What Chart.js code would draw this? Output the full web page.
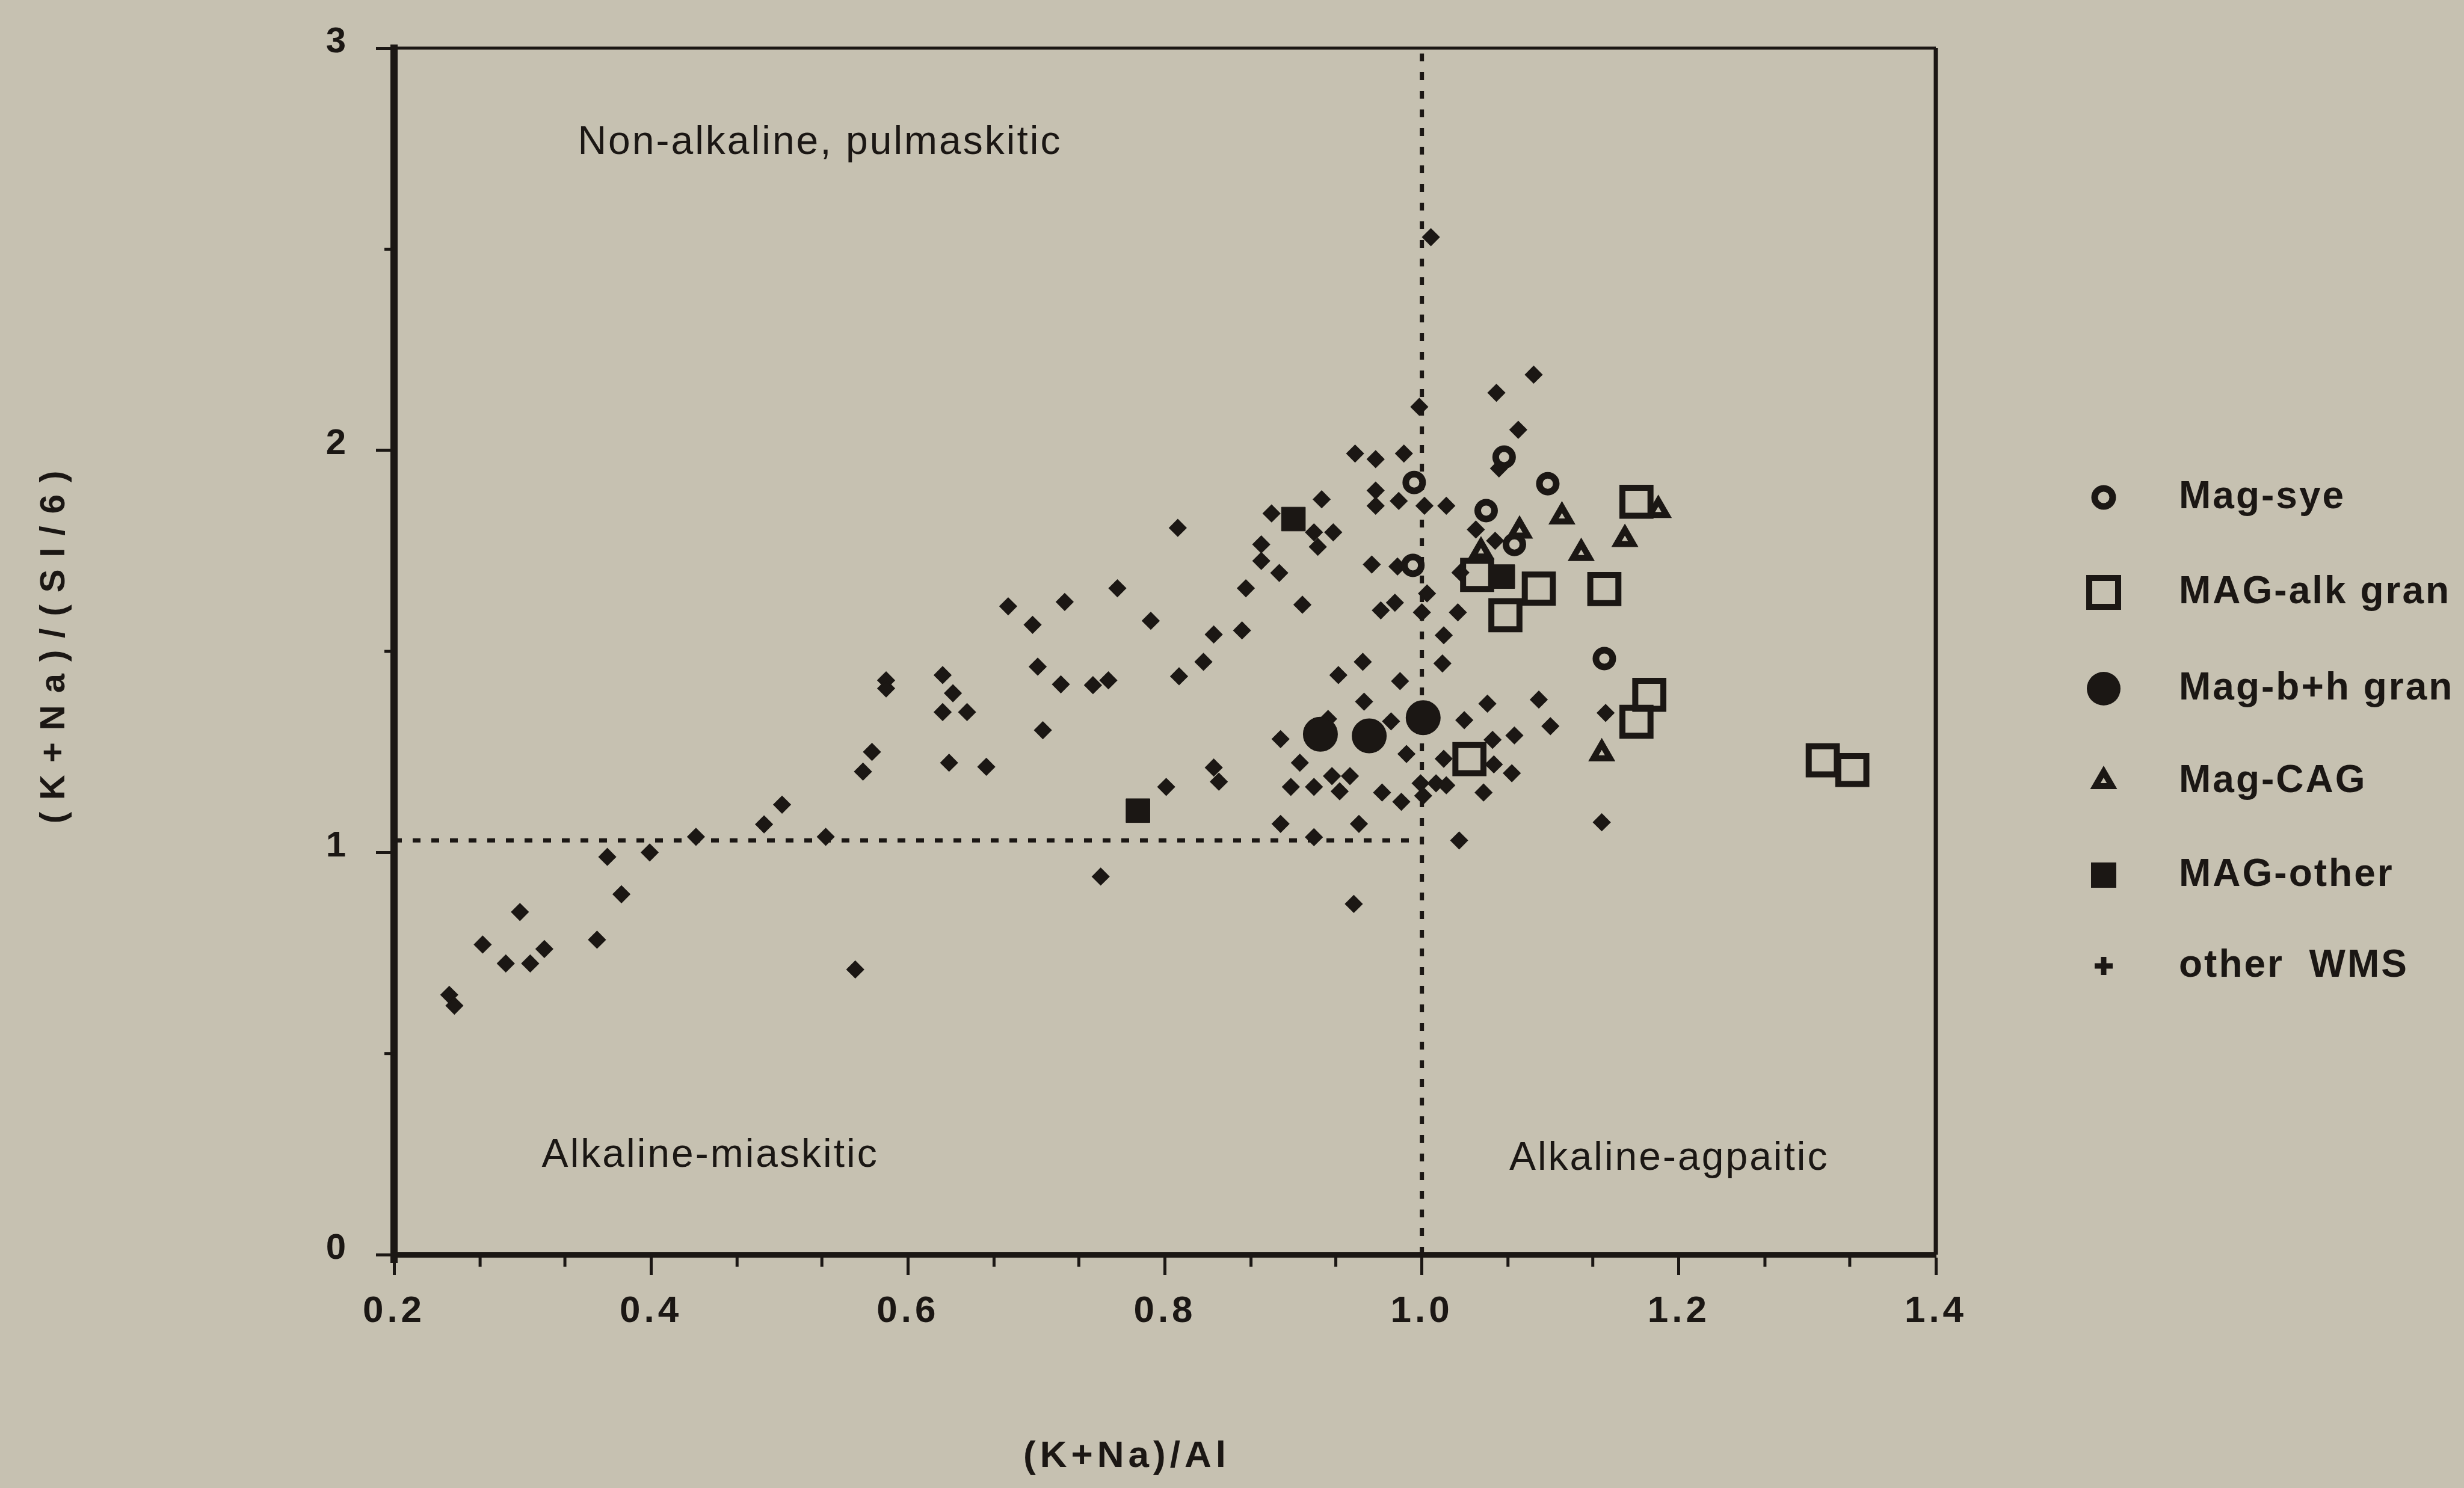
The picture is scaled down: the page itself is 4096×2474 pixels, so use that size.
<!DOCTYPE html>
<html>
<head>
<meta charset="utf-8">
<title>(K+Na)/Al vs (K+Na)/(SI/6)</title>
<script src="https://cdn.jsdelivr.net/npm/chart.js@4.4.1/dist/chart.umd.min.js"></script>
<style>
  html, body { margin: 0; padding: 0; background: #c6c1b1; }
  canvas { display: block; }
</style>
</head>
<body>
<canvas id="myChart" width="4096" height="2474"></canvas>
<script>
// axis ticks
const xTicks = [0.2, 0.4, 0.6, 0.8, 1.0, 1.2, 1.4];
const xTickLabels = ['0.2', '0.4', '0.6', '0.8', '1.0', '1.2', '1.4'];
const xMinorTicks = [0.267, 0.333, 0.467, 0.533, 0.667, 0.733, 0.867, 0.933, 1.067, 1.133, 1.267, 1.333];
const yTicks = [0, 1, 2, 3];
const yTickLabels = ['0', '1', '2', '3'];
const yMinorTicks = [0.5, 1.5, 2.5];

const seriesNames = ['Mag-sye', 'MAG-alk gran', 'Mag-b+h gran', 'Mag-CAG', 'MAG-other', 'other  WMS'];

// points, [ (K+Na)/Al , (K+Na)/(Si/6) ]
const magSye = [[0.994, 1.920], [0.993, 1.714], [1.064, 1.983], [1.098, 1.917], [1.050, 1.850],
  [1.072, 1.766], [1.142, 1.482]];
const magAlkGran = [[1.167, 1.872], [1.142, 1.655], [1.091, 1.656], [1.065, 1.590], [1.043, 1.690],
  [1.177, 1.392], [1.167, 1.325], [1.037, 1.232], [1.312, 1.229], [1.335, 1.205]];
const magBhGran = [[0.921, 1.294], [0.959, 1.290], [1.001, 1.335]];
const magCag = [[1.109, 1.835], [1.184, 1.851], [1.158, 1.779], [1.124, 1.744], [1.076, 1.800],
  [1.046, 1.748], [1.140, 1.246]];
const magOther = [[0.779, 1.104], [0.900, 1.829], [1.063, 1.686]];
const otherWms = [
  [0.243, 0.646], [0.247, 0.619], [0.269, 0.771], [0.287, 0.724], [0.306, 0.724], [0.317, 0.760],
  [0.298, 0.852], [0.358, 0.783], [0.366, 0.989], [0.377, 0.896], [0.399, 1.000], [0.435, 1.039],
  [0.488, 1.070], [0.502, 1.119], [0.536, 1.039], [0.559, 0.709],
  [0.565, 1.201], [0.572, 1.250], [0.583, 1.428], [0.583, 1.408], [0.627, 1.441], [0.635, 1.396],
  [0.627, 1.349], [0.646, 1.349], [0.632, 1.223], [0.661, 1.213], [0.678, 1.612], [0.697, 1.566],
  [0.701, 1.462], [0.705, 1.304], [0.719, 1.418], [0.722, 1.623], [0.744, 1.416], [0.756, 1.428],
  [0.750, 0.940], [0.763, 1.657], [0.789, 1.576], [0.801, 1.163], [0.810, 1.807], [0.811, 1.438],
  [0.830, 1.474], [0.838, 1.542], [0.838, 1.211], [0.842, 1.176], [0.860, 1.552], [0.863, 1.657],
  [0.875, 1.766], [0.875, 1.725], [0.889, 1.695], [0.883, 1.843], [0.922, 1.878], [0.916, 1.796],
  [0.919, 1.760], [0.931, 1.796], [0.907, 1.616],
  [0.948, 1.992], [0.964, 1.978], [0.986, 1.992], [0.964, 1.900], [0.964, 1.862], [0.982, 1.874],
  [0.961, 1.716], [0.981, 1.711], [0.968, 1.602], [0.979, 1.621], [1.000, 1.597], [0.954, 1.474],
  [0.935, 1.441], [0.983, 1.426], [0.955, 1.375], [0.927, 1.332], [0.976, 1.326], [0.890, 1.282],
  [0.988, 1.245], [0.905, 1.223], [0.930, 1.190], [0.944, 1.190], [0.898, 1.163], [0.916, 1.163],
  [0.936, 1.152], [0.969, 1.149], [0.984, 1.126], [0.890, 1.071], [0.916, 1.038], [0.951, 1.071],
  [0.947, 0.872],
  [1.007, 2.530], [0.998, 2.108], [1.002, 1.862], [1.019, 1.862], [1.004, 1.644], [1.028, 1.597],
  [1.017, 1.540], [1.016, 1.470], [1.030, 1.696], [1.042, 1.803], [1.057, 1.775], [1.060, 1.955],
  [1.033, 1.329], [1.051, 1.370], [1.072, 1.291], [1.055, 1.280], [1.056, 1.219], [1.070, 1.197],
  [1.017, 1.233], [0.999, 1.172], [1.011, 1.172], [1.019, 1.167], [1.001, 1.141], [1.048, 1.149],
  [1.029, 1.030],
  [1.087, 2.188], [1.058, 2.143], [1.075, 2.051], [1.091, 1.380], [1.100, 1.314], [1.143, 1.347],
  [1.140, 1.075]
];

// dotted field boundaries
const boundaryH = [[0.2, 1.03], [1.0, 1.03]];
const boundaryV = [[1.0, 0], [1.0, 3]];

const INK = '#1b1714';
const PAPER = '#c6c1b1';
const FONT = "'Liberation Sans', Arial, sans-serif";

function pts(arr) {
    return arr.map(function (p) { return { x: p[0], y: p[1] }; });
}

function markerSet(label, arr, style, radius, border, fill, order) {
    return {
        label: label,
        data: pts(arr),
        pointStyle: style,
        pointRadius: radius,
        pointHoverRadius: radius,
        pointBorderWidth: border,
        pointHoverBorderWidth: border,
        pointBorderColor: INK,
        pointBackgroundColor: fill,
        showLine: false,
        order: order
    };
}

function lineSet(arr) {
    return {
        label: '',
        data: pts(arr),
        showLine: true,
        pointRadius: 0,
        borderColor: INK,
        borderWidth: 7,
        borderDash: [13, 18],
        borderCapStyle: 'butt',
        order: 10
    };
}

const datasets = [
    markerSet(seriesNames[0], magSye, 'circle', 14, 11, PAPER, 1),
    markerSet(seriesNames[1], magAlkGran, 'rect', 33, 10, 'rgba(0,0,0,0)', 2),
    markerSet(seriesNames[2], magBhGran, 'circle', 28, 2, INK, 3),
    markerSet(seriesNames[3], magCag, 'triangle', 16, 10, PAPER, 4),
    markerSet(seriesNames[4], magOther, 'rect', 28, 1, INK, 5),
    markerSet(seriesNames[5], otherWms, 'rectRot', 13, 3, INK, 6),
    lineSet(boundaryH),
    lineSet(boundaryV)
];

// legend marker drawing (the legend is drawn by hand to keep the mixed marker sizes)
function legendMarker(ctx, kind, x, y) {
    ctx.save();
    ctx.fillStyle = INK;
    ctx.strokeStyle = INK;
    ctx.beginPath();
    if (kind === 'ring') {
        ctx.lineWidth = 11;
        ctx.arc(x, y, 15, 0, Math.PI * 2);
        ctx.fillStyle = PAPER;
        ctx.fill();
        ctx.stroke();
    } else if (kind === 'openSquare') {
        ctx.lineWidth = 10;
        ctx.rect(x - 24, y - 24, 48, 48);
        ctx.stroke();
    } else if (kind === 'disc') {
        ctx.arc(x, y, 28, 0, Math.PI * 2);
        ctx.fill();
    } else if (kind === 'triangle') {
        ctx.lineWidth = 10;
        var r = 16;
        ctx.moveTo(x, y - r);
        ctx.lineTo(x + Math.sin(2 * Math.PI / 3) * r, y + r / 2);
        ctx.lineTo(x - Math.sin(2 * Math.PI / 3) * r, y + r / 2);
        ctx.closePath();
        ctx.fillStyle = PAPER;
        ctx.fill();
        ctx.stroke();
    } else if (kind === 'filledSquare') {
        ctx.rect(x - 21, y - 21, 42, 42);
        ctx.fill();
    } else if (kind === 'plus') {
        ctx.lineWidth = 9;
        ctx.moveTo(x - 15, y);
        ctx.lineTo(x + 15, y);
        ctx.moveTo(x, y - 15);
        ctx.lineTo(x, y + 15);
        ctx.stroke();
    }
    ctx.restore();
}

const paperPlugin = {
    id: 'paper',
    beforeDraw: function (chart) {
        const ctx = chart.ctx;
        ctx.save();
        ctx.fillStyle = PAPER;
        ctx.fillRect(0, 0, chart.width, chart.height);
        ctx.restore();
        // tick labels in the original are widely spaced
        ctx.letterSpacing = '6px';
    },
    beforeDatasetsDraw: function (chart) {
        const ctx = chart.ctx;
        const a = chart.chartArea;
        const xs = chart.scales.x;
        const ys = chart.scales.y;
        ctx.save();
        ctx.strokeStyle = INK;
        // top and right frame
        ctx.lineWidth = 5;
        ctx.beginPath();
        ctx.moveTo(a.left, a.top);
        ctx.lineTo(a.right, a.top);
        ctx.stroke();
        ctx.lineWidth = 7;
        ctx.beginPath();
        ctx.moveTo(a.right, a.top);
        ctx.lineTo(a.right, a.bottom);
        ctx.stroke();
        // left axis runs a little past the origin
        ctx.lineWidth = 12;
        ctx.beginPath();
        ctx.moveTo(a.left, a.bottom);
        ctx.lineTo(a.left, a.bottom + 14);
        ctx.stroke();
        // minor ticks
        ctx.lineWidth = 5;
        xMinorTicks.forEach(function (v) {
            const px = xs.getPixelForValue(v);
            ctx.beginPath();
            ctx.moveTo(px, a.bottom);
            ctx.lineTo(px, a.bottom + 20);
            ctx.stroke();
        });
        yMinorTicks.forEach(function (v) {
            const py = ys.getPixelForValue(v);
            ctx.beginPath();
            ctx.moveTo(a.left, py);
            ctx.lineTo(a.left - 16, py);
            ctx.stroke();
        });
        ctx.restore();
    },
    afterDraw: function (chart) {
        const ctx = chart.ctx;
        const xs = chart.scales.x;
        const ys = chart.scales.y;
        ctx.save();
        ctx.fillStyle = INK;
        ctx.textBaseline = 'middle';

        // field names
        ctx.font = '66px ' + FONT;
        ctx.letterSpacing = '3px';
        ctx.textAlign = 'left';
        ctx.fillText('Non-alkaline, pulmaskitic', xs.getPixelForValue(0.343), ys.getPixelForValue(2.764));
        ctx.fillText('Alkaline-miaskitic', xs.getPixelForValue(0.315), ys.getPixelForValue(0.246));
        ctx.fillText('Alkaline-agpaitic', xs.getPixelForValue(1.068), ys.getPixelForValue(0.238));

        // axis titles
        ctx.font = 'bold 62px ' + FONT;
        ctx.letterSpacing = '7px';
        ctx.textAlign = 'center';
        ctx.fillText('(K+Na)/Al', 1873, 2422);

        ctx.save();
        ctx.translate(91, 1066);
        ctx.rotate(-Math.PI / 2);
        ctx.font = 'bold 58px ' + FONT;
        ctx.letterSpacing = '20px';
        ctx.fillText('(K+Na)/(SI/6)', 0, 0);
        ctx.restore();

        // legend
        const kinds = ['ring', 'openSquare', 'disc', 'triangle', 'filledSquare', 'plus'];
        const rows = [827, 985, 1145, 1299, 1455, 1606];
        ctx.font = 'bold 64px ' + FONT;
        ctx.letterSpacing = '3px';
        ctx.textAlign = 'left';
        seriesNames.forEach(function (name, i) {
            legendMarker(ctx, kinds[i], 3497, rows[i]);
            ctx.fillStyle = INK;
            ctx.fillText(name, 3622, rows[i]);
        });
        ctx.restore();
        ctx.letterSpacing = '0px';
    }
};

Chart.defaults.font.family = FONT;
Chart.defaults.color = INK;

const myChart = new Chart(document.getElementById('myChart'), {
    type: 'scatter',
    data: { datasets: datasets },
    options: {
        responsive: false,
        devicePixelRatio: 1,
        animation: false,
        events: [],
        layout: { padding: { top: 60, right: 878, bottom: 0, left: 0 } },
        plugins: {
            legend: { display: false },
            tooltip: { enabled: false }
        },
        scales: {
            x: {
                type: 'linear',
                min: 0.2,
                max: 1.4,
                afterBuildTicks: function (scale) {
                    scale.ticks = xTicks.map(function (v) { return { value: v }; });
                },
                afterFit: function (scale) { scale.height = 388; },
                ticks: {
                    callback: function (value, index) { return xTickLabels[index]; },
                    font: { size: 62, weight: 'bold' },
                    color: INK,
                    padding: 24,
                    maxRotation: 0,
                    autoSkip: false
                },
                grid: {
                    display: true,
                    drawOnChartArea: false,
                    drawTicks: true,
                    tickLength: 34,
                    tickWidth: 5,
                    tickColor: INK,
                    color: INK
                },
                border: { display: true, width: 9, color: INK }
            },
            y: {
                type: 'linear',
                min: 0,
                max: 3,
                afterBuildTicks: function (scale) {
                    scale.ticks = yTicks.map(function (v) { return { value: v }; });
                },
                afterFit: function (scale) { scale.width = 655; },
                ticks: {
                    callback: function (value, index) { return yTickLabels[index]; },
                    font: { size: 60, weight: 'bold' },
                    color: INK,
                    padding: 44,
                    labelOffset: -10,
                    autoSkip: false
                },
                grid: {
                    display: true,
                    drawOnChartArea: false,
                    drawTicks: true,
                    tickLength: 30,
                    tickWidth: 5,
                    tickColor: INK,
                    color: INK
                },
                border: { display: true, width: 12, color: INK }
            }
        }
    },
    plugins: [paperPlugin]
});
</script>
</body>
</html>
